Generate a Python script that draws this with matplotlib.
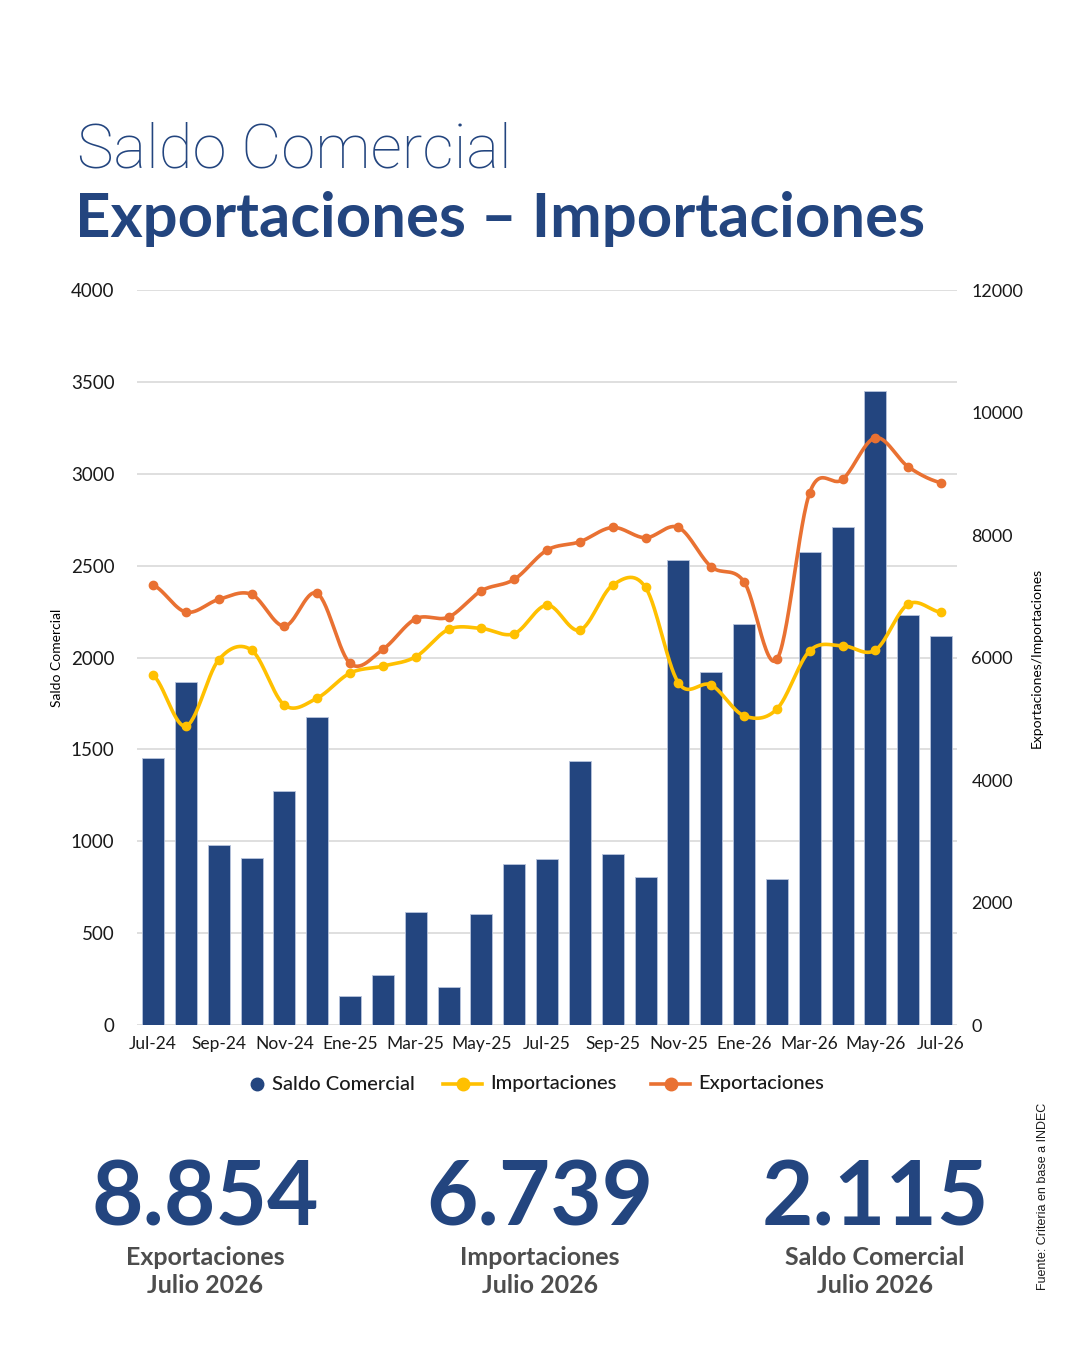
import numpy as np
import matplotlib
matplotlib.use("Agg")
import matplotlib.pyplot as plt
from matplotlib.lines import Line2D

plt.rcParams['font.family'] = ['Lato', 'DejaVu Sans']

meses = ["Jul-24", "Ago-24", "Sep-24", "Oct-24", "Nov-24", "Dic-24",
         "Ene-25", "Feb-25", "Mar-25", "Abr-25", "May-25", "Jun-25",
         "Jul-25", "Ago-25", "Sep-25", "Oct-25", "Nov-25", "Dic-25",
         "Ene-26", "Feb-26", "Mar-26", "Abr-26", "May-26", "Jun-26", "Jul-26"]

saldo = [1453, 1868, 978, 909, 1273, 1676, 158, 272, 617, 209, 602, 874,
         902, 1437, 931, 805, 2531, 1921, 2182, 793, 2576, 2710, 3449, 2230, 2115]

exportaciones = [7184, 6743, 6950, 7032, 6514, 7048, 5905, 6134, 6634, 6661,
                 7091, 7277, 7755, 7891, 8125, 7956, 8125, 7483, 7238, 5970,
                 8691, 8909, 9589, 9115, 8854]

importaciones = [5714, 4882, 5965, 6122, 5224, 5339, 5747, 5861, 6013, 6460,
                 6476, 6390, 6857, 6449, 7184, 7146, 5589, 5551, 5050, 5159,
                 6111, 6193, 6122, 6873, 6739]

azul = "#23457f"
naranja = "#e97132"
amarillo = "#ffc000"
gris = "#4d4d4d"
W, H = 1081, 1355


def suavizar(y, n=30):
    # curva tipo "linea suavizada" de Excel (Catmull-Rom)
    y = np.asarray(y, dtype=float)
    x = np.arange(len(y), dtype=float)
    px = np.concatenate([[2 * x[0] - x[1]], x, [2 * x[-1] - x[-2]]])
    py = np.concatenate([[y[0]], y, [y[-1]]])
    xs, ys = [], []
    t = np.linspace(0, 1, n, endpoint=False)
    for i in range(1, len(px) - 2):
        p0, p1, p2, p3 = py[i - 1], py[i], py[i + 1], py[i + 2]
        q0, q1, q2, q3 = px[i - 1], px[i], px[i + 1], px[i + 2]
        b1 = p1 + (p2 - p0) / 6
        b2 = p2 - (p3 - p1) / 6
        c1 = q1 + (q2 - q0) / 6
        c2 = q2 - (q3 - q1) / 6
        bx = (1 - t) ** 3 * q1 + 3 * (1 - t) ** 2 * t * c1 + 3 * (1 - t) * t ** 2 * c2 + t ** 3 * q2
        by = (1 - t) ** 3 * p1 + 3 * (1 - t) ** 2 * t * b1 + 3 * (1 - t) * t ** 2 * b2 + t ** 3 * p2
        xs.extend(bx)
        ys.extend(by)
    xs.append(x[-1])
    ys.append(y[-1])
    return np.array(xs), np.array(ys)


fig = plt.figure(figsize=(10.81, 13.55), dpi=100)
ax = fig.add_axes([0.1264, 0.2435, 0.7593, 0.5424])
ax2 = ax.twinx()

x = np.arange(len(meses))
ax.bar(x, saldo, width=0.67, color=azul, edgecolor="#b8c4dc", linewidth=0.6, zorder=2)
ax.set_ylim(0, 4000)
ax.set_xlim(-0.5, len(meses) - 0.5)
ax.set_yticks(range(0, 4001, 500))
ax.yaxis.grid(True, color="#d9d9d9", linewidth=1.2, zorder=0)
ax.set_axisbelow(True)
ax.set_xticks(x[::2])
ax.set_xticklabels(meses[::2])
ax.tick_params(axis="both", length=0, labelsize=12.5, colors="#1a1a1a")
ax.tick_params(axis="y", labelsize=13.5, pad=16)
ax.tick_params(axis="x", pad=8)
for s in ax.spines.values():
    s.set_visible(False)
ax.set_ylabel("Saldo Comercial", fontsize=10)
ax.yaxis.set_label_coords(-0.090, 0.5)

for serie, col in [(importaciones, amarillo), (exportaciones, naranja)]:
    sx, sy = suavizar(serie)
    ax2.plot(sx, sy, color=col, linewidth=2.6, zorder=3, solid_capstyle="round")
    ax2.plot(x, serie, "o", color=col, markersize=6, zorder=4)
ax2.set_ylim(0, 12000)
ax2.set_yticks(range(0, 12001, 2000))
ax2.tick_params(axis="y", length=0, labelsize=13, colors="#1a1a1a", pad=10)
for s in ax2.spines.values():
    s.set_visible(False)
ax2.set_ylabel("Exportaciones/Importaciones", fontsize=10)
ax2.yaxis.set_label_coords(1.089, 0.5)
ax.set_zorder(ax2.get_zorder() - 1)
ax.patch.set_visible(False)

# leyenda dibujada a mano para respetar las posiciones
ly = 1 - 1084 / H
fig.add_artist(Line2D([257 / W], [ly], marker="o", color=azul, markersize=9,
                      linestyle="none", transform=fig.transFigure))
fig.text(272 / W, ly, "Saldo Comercial", fontsize=14.5, fontweight="medium",
         va="center", color="#1a1a1a")
for x0, x1, col, nombre in [(443, 482, amarillo, "Importaciones"),
                            (651, 690, naranja, "Exportaciones")]:
    fig.add_artist(Line2D([x0 / W, x1 / W], [ly, ly], color=col, linewidth=2.6,
                          transform=fig.transFigure))
    fig.add_artist(Line2D([(x0 + x1) / 2 / W], [ly], marker="o", color=col,
                          markersize=9, transform=fig.transFigure))
    fig.text((x1 + 8) / W, ly, nombre, fontsize=14.5, fontweight="medium",
             va="center", color="#1a1a1a")

fig.text(77 / W, 1 - 168 / H, "Saldo Comercial", fontsize=44.5, family="Roboto",
         fontweight="light", color=azul, va="baseline")
fig.text(75 / W, 1 - 237 / H, "Exportaciones \u2013 Importaciones", fontsize=44.4,
         fontweight="bold", color=azul, va="baseline")

bloques = [(205, "8.854", "Exportaciones"), (540, "6.739", "Importaciones"),
           (875, "2.115", "Saldo Comercial")]
for cx, num, nombre in bloques:
    fig.text(cx / W, 1 - 1226 / H, num, fontsize=64, fontweight="bold",
             color=azul, ha="center", va="baseline")
    fig.text(cx / W, 1 - 1265 / H, nombre, fontsize=18, fontweight="bold",
             color=gris, ha="center", va="baseline")
    fig.text(cx / W, 1 - 1293 / H, "Julio 2026", fontsize=18, fontweight="bold",
             color=gris, ha="center", va="baseline")

fig.text(1043 / W, 1 - 1196 / H, "Fuente: Criteria en base a INDEC", fontsize=9,
         family="Liberation Sans", rotation=90, ha="center", va="center", color="#1a1a1a")

fig.savefig("out.png", dpi=100, facecolor="white")
